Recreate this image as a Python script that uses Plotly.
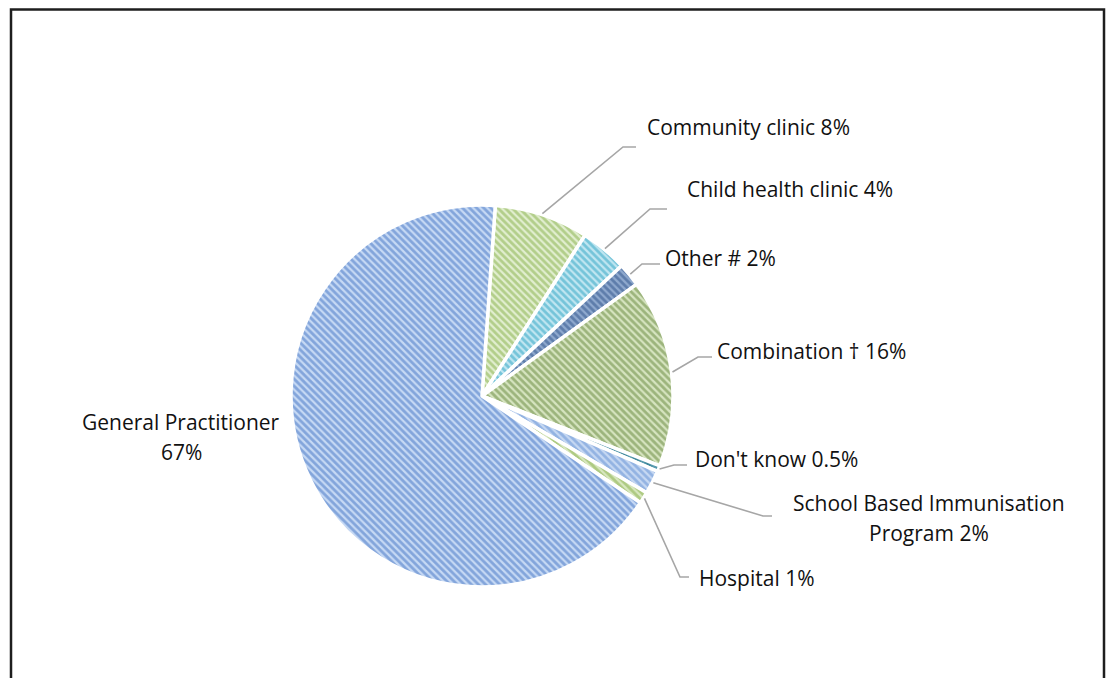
import math
import plotly.graph_objects as go

# ---------------- data ----------------
categories = ["Community clinic", "Child health clinic", "Other #", "Combination \u2020",
              "Don't know", "School Based Immunisation<br>Program", "Hospital",
              "General Practitioner<br>"]
values = [8, 4, 2, 16, 0.5, 2, 1, 67]

# ---------------- styles ----------------
bg_colors = ["#e1eecf", "#c0e6f1", "#8fa9ce", "#d6e4bf", "#5b9db0", "#c6d8f2", "#d8e7bf", "#c6d9f4"]
fg_colors = ["#84ad45", "#2aa2c2", "#2d5287", "#62833a", "#2a7689", "#5f8dd2", "#84ad45", "#3f71c2"]

W, H = 1107, 678
CX, CY, R = 482, 396, 191          # pie centre / radius in page pixels
ROTATION = 4

# label layout: elbow point (px), end of horizontal segment (px), text anchor (px)
elbows = [(623, 147, 636), (650, 209, 667), (642, 264, 660), (698, 357, 712),
          (674, 465, 687), (763, 516, 772), (680, 577, 689), None]
text_pos = [(645, 127, "left"), (685, 189, "left"), (663, 258, "left"), (715, 351, "left"),
            (693, 459, "left"), (929, 518, "center"), (697, 578, "left"), (181, 437, "center")]

FONT = "Open Sans"
FS = 21


def px(x):
    return x / W


def py(y):
    return 1 - y / H


fig = go.Figure(go.Pie(
    labels=categories,
    values=values,
    sort=False,
    direction="clockwise",
    rotation=ROTATION,
    textinfo="none",
    hoverinfo="label+value",
    showlegend=False,
    marker=dict(
        colors=bg_colors,
        line=dict(color="white", width=3.5),
        pattern=dict(shape="\\", fgcolor=fg_colors, bgcolor=bg_colors,
                     size=5, solidity=0.55, fillmode="overlay"),
    ),
    domain=dict(x=[px(CX - R), px(CX + R)], y=[py(CY + R), py(CY - R)]),
))

shapes = []
annotations = []
total = sum(values)
cum = 0.0
for i, (cat, v) in enumerate(zip(categories, values)):
    mid = ROTATION + 360.0 * (cum + v / 2.0) / total
    cum += v
    a = math.radians(mid)
    sx = CX + (R + 1) * math.sin(a)
    sy = CY - (R + 1) * math.cos(a)
    pct = f"{v:g}%"
    if cat.endswith("<br>"):
        label = cat + pct
    else:
        label = cat + " " + pct
    if elbows[i] is not None:
        ex, ey, endx = elbows[i]
        path = f"M {px(sx)},{py(sy)} L {px(ex)},{py(ey)} L {px(endx)},{py(ey)}"
        shapes.append(dict(type="path", path=path, xref="paper", yref="paper",
                           line=dict(color="#a6a6a6", width=1.6)))
    tx, ty, anc = text_pos[i]
    lines = label.split("<br>")
    n = len(lines)
    for j, ln in enumerate(lines):
        yy = ty + (j - (n - 1) / 2.0) * 30
        annotations.append(dict(x=px(tx), y=py(yy), xref="paper", yref="paper",
                                text=ln, showarrow=False, xanchor=anc, yanchor="middle",
                                font=dict(family=FONT, size=FS, color="#111111")))

# outer frame (bottom edge runs off the page)
shapes.append(dict(type="rect", xref="paper", yref="paper",
                   x0=px(11), x1=px(1104), y0=-0.2, y1=py(9.5),
                   line=dict(color="#1e1e1e", width=2.5)))

fig.update_layout(
    width=W, height=H,
    margin=dict(l=0, r=0, t=0, b=0),
    paper_bgcolor="white",
    plot_bgcolor="white",
    shapes=shapes,
    annotations=annotations,
)

fig.write_html(
    "out.html",
    config={"displayModeBar": False},
    post_script="document.body.style.margin='0';document.body.style.overflow='hidden';",
)
